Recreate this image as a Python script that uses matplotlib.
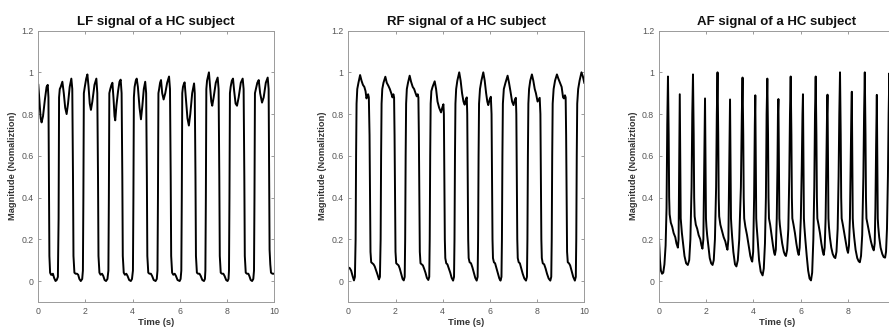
import matplotlib
matplotlib.use('Agg')
import matplotlib.pyplot as plt

plt.rcParams['font.family'] = ['Liberation Sans', 'DejaVu Sans']

titles = ['LF signal of a HC subject', 'RF signal of a HC subject', 'AF signal of a HC subject']
x_label = 'Time (s)'
y_label = 'Magnitude (Nomaliztion)'
x_ticks = [0, 2, 4, 6, 8, 10]
x_tick_labels = ['0', '2', '4', '6', '8', '10']
y_ticks = [0, 0.2, 0.4, 0.6, 0.8, 1.0, 1.2]
y_tick_labels = ['0', '0.2', '0.4', '0.6', '0.8', '1', '1.2']

# (time s, normalized magnitude)
lf_points = [
    (0.00, 0.94), (0.05, 0.86), (0.10, 0.78), (0.14, 0.76), (0.20, 0.79), (0.28, 0.87), (0.35, 0.93), (0.40, 0.94),
    (0.43, 0.88), (0.45, 0.50), (0.47, 0.12), (0.50, 0.04), (0.54, 0.03), (0.58, 0.03), (0.62, 0.035), (0.67, 0.015),
    (0.73, 0.0), (0.78, 0.005), (0.83, 0.02), (0.86, 0.30), (0.88, 0.88),
    (0.91, 0.92), (0.95, 0.93), (1.02, 0.955), (1.08, 0.90), (1.14, 0.83), (1.20, 0.80), (1.26, 0.85), (1.33, 0.93),
    (1.40, 0.97), (1.44, 0.92), (1.47, 0.50), (1.49, 0.12), (1.53, 0.04), (1.58, 0.035), (1.64, 0.035), (1.69, 0.03),
    (1.74, 0.01), (1.80, 0.0), (1.86, 0.01), (1.89, 0.05), (1.91, 0.40), (1.93, 0.90),
    (1.97, 0.93), (2.03, 0.97), (2.08, 0.99), (2.13, 0.93), (2.18, 0.85), (2.23, 0.82), (2.29, 0.86), (2.38, 0.94),
    (2.46, 0.97), (2.50, 0.90), (2.53, 0.50), (2.55, 0.12), (2.59, 0.04), (2.64, 0.03), (2.70, 0.035), (2.75, 0.025),
    (2.81, 0.005), (2.87, 0.0), (2.93, 0.01), (2.97, 0.05), (2.99, 0.40), (3.01, 0.90),
    (3.05, 0.92), (3.10, 0.94), (3.14, 0.95), (3.19, 0.87), (3.23, 0.79), (3.26, 0.77), (3.31, 0.84), (3.38, 0.91),
    (3.44, 0.955), (3.49, 0.965), (3.53, 0.90), (3.56, 0.50), (3.58, 0.12), (3.62, 0.04), (3.67, 0.03), (3.73, 0.035),
    (3.78, 0.025), (3.85, 0.005), (3.92, 0.0), (3.97, 0.01), (4.01, 0.05), (4.03, 0.40), (4.05, 0.88),
    (4.08, 0.93), (4.13, 0.96), (4.17, 0.97), (4.22, 0.93), (4.29, 0.83), (4.35, 0.775), (4.41, 0.84), (4.47, 0.92),
    (4.53, 0.955), (4.57, 0.90), (4.60, 0.50), (4.62, 0.12), (4.66, 0.04), (4.71, 0.035), (4.77, 0.035), (4.82, 0.025),
    (4.89, 0.005), (4.97, 0.0), (5.02, 0.01), (5.05, 0.05), (5.07, 0.40), (5.09, 0.90),
    (5.12, 0.92), (5.16, 0.95), (5.20, 0.963), (5.25, 0.90), (5.31, 0.87), (5.38, 0.90), (5.46, 0.95), (5.54, 0.98),
    (5.58, 0.92), (5.61, 0.50), (5.63, 0.12), (5.67, 0.04), (5.72, 0.03), (5.78, 0.035), (5.83, 0.025), (5.90, 0.005),
    (5.99, 0.0), (6.03, 0.01), (6.06, 0.05), (6.08, 0.40), (6.10, 0.90),
    (6.13, 0.93), (6.17, 0.945), (6.20, 0.952), (6.25, 0.88), (6.32, 0.78), (6.38, 0.745), (6.44, 0.80), (6.52, 0.90),
    (6.60, 0.947), (6.63, 0.90), (6.66, 0.50), (6.68, 0.12), (6.72, 0.04), (6.77, 0.035), (6.83, 0.035), (6.88, 0.025),
    (6.95, 0.005), (7.02, 0.0), (7.06, 0.01), (7.08, 0.05), (7.10, 0.40), (7.12, 0.92),
    (7.15, 0.96), (7.19, 0.98), (7.23, 1.0), (7.28, 0.93), (7.33, 0.86), (7.37, 0.84), (7.43, 0.88), (7.52, 0.95),
    (7.60, 0.975), (7.64, 0.92), (7.67, 0.50), (7.69, 0.12), (7.73, 0.04), (7.78, 0.035), (7.84, 0.035), (7.89, 0.025),
    (7.96, 0.005), (8.02, 0.0), (8.06, 0.01), (8.08, 0.05), (8.10, 0.40), (8.12, 0.90),
    (8.15, 0.93), (8.20, 0.96), (8.25, 0.97), (8.30, 0.91), (8.36, 0.85), (8.42, 0.84), (8.49, 0.88), (8.58, 0.95),
    (8.66, 0.97), (8.70, 0.92), (8.73, 0.50), (8.75, 0.12), (8.79, 0.04), (8.84, 0.035), (8.90, 0.035), (8.94, 0.025),
    (9.00, 0.005), (9.06, 0.0), (9.11, 0.01), (9.14, 0.05), (9.16, 0.40), (9.18, 0.90),
    (9.22, 0.92), (9.28, 0.95), (9.34, 0.963), (9.40, 0.90), (9.48, 0.855), (9.55, 0.88), (9.64, 0.95), (9.72, 0.975),
    (9.76, 0.92), (9.78, 0.50), (9.80, 0.15), (9.83, 0.08), (9.86, 0.04), (9.92, 0.035), (10.0, 0.035),
]

rf_points = [
    (0.00, 0.065), (0.06, 0.062), (0.12, 0.05), (0.18, 0.025), (0.24, 0.003), (0.28, 0.02), (0.31, 0.2), (0.33, 0.6),
    (0.35, 0.85), (0.38, 0.92), (0.43, 0.95), (0.50, 0.987), (0.56, 0.96), (0.62, 0.94), (0.68, 0.93), (0.73, 0.91),
    (0.77, 0.875), (0.80, 0.885), (0.84, 0.895), (0.87, 0.88), (0.90, 0.7), (0.92, 0.4), (0.94, 0.14), (0.97, 0.09),
    (1.02, 0.085), (1.07, 0.08), (1.12, 0.07), (1.18, 0.05), (1.24, 0.03), (1.30, 0.008), (1.34, 0.02), (1.37, 0.2),
    (1.39, 0.6), (1.41, 0.85), (1.44, 0.92),
    (1.49, 0.95), (1.57, 0.979), (1.63, 0.95), (1.70, 0.935), (1.76, 0.92), (1.82, 0.9), (1.87, 0.88), (1.91, 0.895),
    (1.94, 0.88), (1.96, 0.7), (1.98, 0.4), (2.00, 0.14), (2.03, 0.085), (2.08, 0.08), (2.13, 0.075), (2.18, 0.06),
    (2.24, 0.035), (2.30, 0.01), (2.35, 0.003), (2.39, 0.02), (2.41, 0.2), (2.43, 0.6), (2.45, 0.85), (2.48, 0.92),
    (2.53, 0.95), (2.60, 0.984), (2.66, 0.955), (2.73, 0.93), (2.79, 0.92), (2.85, 0.9), (2.90, 0.885), (2.94, 0.895),
    (2.97, 0.88), (2.99, 0.7), (3.01, 0.4), (3.03, 0.14), (3.06, 0.085), (3.11, 0.08), (3.16, 0.075), (3.21, 0.06),
    (3.27, 0.04), (3.33, 0.015), (3.39, 0.005), (3.43, 0.02), (3.45, 0.2), (3.47, 0.6), (3.49, 0.85), (3.52, 0.91),
    (3.57, 0.93), (3.66, 0.957), (3.72, 0.92), (3.78, 0.86), (3.85, 0.83), (3.93, 0.808), (3.98, 0.83), (4.03, 0.847),
    (4.05, 0.8), (4.07, 0.5), (4.09, 0.2), (4.11, 0.11), (4.15, 0.085), (4.20, 0.08), (4.26, 0.06), (4.32, 0.04),
    (4.38, 0.015), (4.44, 0.002), (4.48, 0.02), (4.50, 0.2), (4.52, 0.6), (4.54, 0.85), (4.57, 0.92),
    (4.62, 0.96), (4.70, 1.0), (4.76, 0.96), (4.82, 0.9), (4.88, 0.86), (4.93, 0.845), (4.98, 0.87), (5.02, 0.88),
    (5.04, 0.8), (5.06, 0.5), (5.08, 0.2), (5.10, 0.11), (5.14, 0.09), (5.20, 0.085), (5.26, 0.065), (5.32, 0.04),
    (5.38, 0.015), (5.44, 0.002), (5.48, 0.02), (5.50, 0.2), (5.52, 0.6), (5.54, 0.85), (5.58, 0.92),
    (5.64, 0.96), (5.72, 1.0), (5.78, 0.96), (5.84, 0.9), (5.89, 0.86), (5.93, 0.843), (5.99, 0.87), (6.04, 0.883),
    (6.07, 0.8), (6.09, 0.5), (6.11, 0.2), (6.13, 0.11), (6.17, 0.09), (6.22, 0.085), (6.28, 0.06), (6.34, 0.035),
    (6.40, 0.012), (6.45, 0.002), (6.49, 0.02), (6.51, 0.2), (6.53, 0.6), (6.55, 0.85), (6.59, 0.92),
    (6.66, 0.95), (6.75, 0.984), (6.81, 0.95), (6.87, 0.91), (6.94, 0.86), (7.00, 0.843), (7.06, 0.87), (7.10, 0.878),
    (7.12, 0.8), (7.14, 0.5), (7.16, 0.2), (7.18, 0.11), (7.22, 0.09), (7.27, 0.085), (7.33, 0.06), (7.39, 0.035),
    (7.46, 0.012), (7.53, 0.002), (7.57, 0.02), (7.59, 0.2), (7.61, 0.6), (7.63, 0.85), (7.66, 0.92),
    (7.71, 0.96), (7.78, 0.99), (7.84, 0.96), (7.90, 0.92), (7.95, 0.9), (8.02, 0.86), (8.07, 0.87), (8.11, 0.878),
    (8.14, 0.8), (8.16, 0.5), (8.18, 0.2), (8.20, 0.11), (8.24, 0.085), (8.30, 0.08), (8.36, 0.06), (8.42, 0.035),
    (8.49, 0.012), (8.56, 0.002), (8.60, 0.02), (8.62, 0.2), (8.64, 0.6), (8.66, 0.85), (8.70, 0.92),
    (8.76, 0.96), (8.84, 0.99), (8.90, 0.97), (8.97, 0.95), (9.04, 0.93), (9.10, 0.88), (9.14, 0.875), (9.18, 0.89),
    (9.21, 0.88), (9.23, 0.7), (9.25, 0.4), (9.27, 0.14), (9.30, 0.09), (9.35, 0.085), (9.40, 0.075), (9.46, 0.05),
    (9.53, 0.02), (9.60, 0.002), (9.64, 0.02), (9.66, 0.2), (9.68, 0.6), (9.70, 0.85), (9.74, 0.92),
    (9.80, 0.96), (9.88, 1.0), (9.94, 0.98), (10.0, 0.95),
]

af_points = [
    (0.00, 0.20), (0.04, 0.10), (0.08, 0.05), (0.13, 0.035), (0.18, 0.04), (0.23, 0.08), (0.28, 0.17), (0.32, 0.35),
    (0.35, 0.75), (0.38, 0.98), (0.41, 0.7), (0.43, 0.4), (0.45, 0.32), (0.50, 0.28), (0.56, 0.26), (0.62, 0.23),
    (0.69, 0.21), (0.74, 0.18), (0.80, 0.16), (0.83, 0.2), (0.85, 0.5), (0.88, 0.895), (0.90, 0.6), (0.92, 0.3),
    (0.94, 0.27), (0.97, 0.23), (1.02, 0.18), (1.08, 0.12), (1.15, 0.085), (1.22, 0.077), (1.28, 0.1), (1.33, 0.2),
    (1.38, 0.45), (1.41, 0.8), (1.44, 0.99),
    (1.47, 0.7), (1.49, 0.4), (1.51, 0.31), (1.56, 0.27), (1.62, 0.25), (1.68, 0.22), (1.75, 0.2), (1.80, 0.17),
    (1.84, 0.155), (1.88, 0.2), (1.91, 0.5), (1.95, 0.875), (1.97, 0.6), (1.99, 0.3), (2.01, 0.26), (2.04, 0.22),
    (2.09, 0.17), (2.15, 0.11), (2.21, 0.085), (2.27, 0.077), (2.32, 0.1), (2.37, 0.2), (2.42, 0.45), (2.45, 0.8),
    (2.48, 1.0),
    (2.51, 0.7), (2.53, 0.4), (2.55, 0.31), (2.60, 0.27), (2.67, 0.24), (2.74, 0.21), (2.81, 0.19), (2.86, 0.165),
    (2.90, 0.15), (2.94, 0.2), (2.97, 0.5), (3.01, 0.87), (3.03, 0.6), (3.05, 0.3), (3.07, 0.26), (3.10, 0.21),
    (3.15, 0.14), (3.22, 0.08), (3.28, 0.07), (3.34, 0.1), (3.40, 0.2), (3.47, 0.45), (3.51, 0.8), (3.54, 0.975),
    (3.57, 0.7), (3.59, 0.4), (3.61, 0.3), (3.66, 0.26), (3.73, 0.22), (3.80, 0.17), (3.87, 0.12), (3.92, 0.1),
    (3.95, 0.093), (3.99, 0.14), (4.03, 0.4), (4.06, 0.75), (4.08, 0.89), (4.10, 0.6), (4.12, 0.3), (4.14, 0.26),
    (4.18, 0.2), (4.24, 0.1), (4.31, 0.045), (4.39, 0.027), (4.44, 0.06), (4.49, 0.18), (4.53, 0.4), (4.56, 0.8),
    (4.59, 0.97),
    (4.62, 0.7), (4.64, 0.4), (4.66, 0.3), (4.71, 0.27), (4.77, 0.22), (4.83, 0.17), (4.88, 0.135), (4.91, 0.125),
    (4.95, 0.15), (4.99, 0.3), (5.02, 0.55), (5.04, 0.8), (5.06, 0.872), (5.08, 0.6), (5.10, 0.3), (5.12, 0.27),
    (5.16, 0.23), (5.22, 0.18), (5.29, 0.14), (5.34, 0.125), (5.38, 0.12), (5.43, 0.15), (5.48, 0.25), (5.52, 0.5),
    (5.55, 0.8), (5.58, 0.98),
    (5.61, 0.7), (5.63, 0.4), (5.65, 0.3), (5.70, 0.27), (5.76, 0.23), (5.82, 0.18), (5.88, 0.14), (5.92, 0.125),
    (5.96, 0.16), (6.01, 0.3), (6.05, 0.55), (6.08, 0.8), (6.10, 0.895), (6.12, 0.6), (6.14, 0.3), (6.16, 0.26),
    (6.20, 0.2), (6.26, 0.12), (6.32, 0.05), (6.38, 0.012), (6.44, 0.003), (6.49, 0.04), (6.54, 0.2), (6.58, 0.45),
    (6.61, 0.8), (6.64, 0.98),
    (6.67, 0.7), (6.69, 0.4), (6.71, 0.3), (6.76, 0.27), (6.82, 0.23), (6.88, 0.18), (6.94, 0.14), (6.98, 0.125),
    (7.02, 0.16), (7.06, 0.3), (7.09, 0.55), (7.12, 0.8), (7.14, 0.893), (7.16, 0.6), (7.18, 0.3), (7.20, 0.26),
    (7.24, 0.21), (7.30, 0.16), (7.36, 0.13), (7.42, 0.115), (7.47, 0.11), (7.52, 0.14), (7.57, 0.25), (7.61, 0.5),
    (7.64, 0.8), (7.67, 1.0),
    (7.70, 0.7), (7.72, 0.4), (7.74, 0.3), (7.79, 0.27), (7.85, 0.23), (7.91, 0.19), (7.97, 0.15), (8.01, 0.135),
    (8.05, 0.17), (8.09, 0.3), (8.12, 0.55), (8.15, 0.8), (8.17, 0.907), (8.19, 0.6), (8.21, 0.3), (8.23, 0.26),
    (8.27, 0.21), (8.33, 0.15), (8.40, 0.11), (8.46, 0.095), (8.51, 0.09), (8.56, 0.12), (8.61, 0.22), (8.66, 0.5),
    (8.69, 0.8), (8.72, 1.0),
    (8.75, 0.7), (8.77, 0.4), (8.79, 0.3), (8.84, 0.27), (8.91, 0.23), (8.98, 0.19), (9.05, 0.16), (9.10, 0.147),
    (9.14, 0.18), (9.17, 0.35), (9.20, 0.65), (9.23, 0.892), (9.25, 0.6), (9.27, 0.3), (9.29, 0.26), (9.33, 0.21),
    (9.39, 0.16), (9.46, 0.13), (9.52, 0.115), (9.58, 0.112), (9.62, 0.14), (9.66, 0.25), (9.70, 0.5), (9.73, 0.8),
    (9.76, 0.995),
    (9.79, 0.7), (9.81, 0.4), (9.83, 0.3), (9.88, 0.27), (9.94, 0.24), (10.0, 0.21),
]

series = [lf_points, rf_points, af_points]

fig = plt.figure(figsize=(8.89, 3.29), dpi=100)
lefts = [38.3 / 889, 348.3 / 889, 659.0 / 889]
axes_width = 236.0 / 889
axes_bottom = (329 - 301.9) / 329
axes_height = (301.9 - 30.6) / 329

for i, (left, pts, title) in enumerate(zip(lefts, series, titles)):
    ax = fig.add_axes([left, axes_bottom, axes_width, axes_height])
    t = [p[0] for p in pts]
    v = [p[1] for p in pts]
    ax.plot(t, v, color='black', lw=1.4, solid_joinstyle='round')
    ax.set_xlim(0, 10)
    ax.set_ylim(-0.1, 1.2)
    ax.set_xticks(x_ticks)
    labels = list(x_tick_labels)
    if i == 2:
        # the reference image is cropped through the last panel; its "10" falls outside the frame
        labels[-1] = ''
    ax.set_xticklabels(labels)
    ax.set_yticks(y_ticks)
    ax.set_yticklabels(y_tick_labels)
    ax.tick_params(direction='in', top=True, right=True, length=2.0, width=0.6,
                   color='#8a8a8a', labelcolor='#555555', labelsize=6.3, pad=3.5)
    for sp in ax.spines.values():
        sp.set_color('#9a9a9a')
        sp.set_linewidth(0.7)
    ax.set_title(title, fontsize=9.5, fontweight='bold', pad=4, color='#111111')
    ax.set_xlabel(x_label, fontsize=6.8, fontweight='bold', labelpad=1.5, color='#333333')
    ax.set_ylabel(y_label, fontsize=6.7, fontweight='bold', labelpad=3, color='#333333')

fig.savefig('out.png', dpi=100)
